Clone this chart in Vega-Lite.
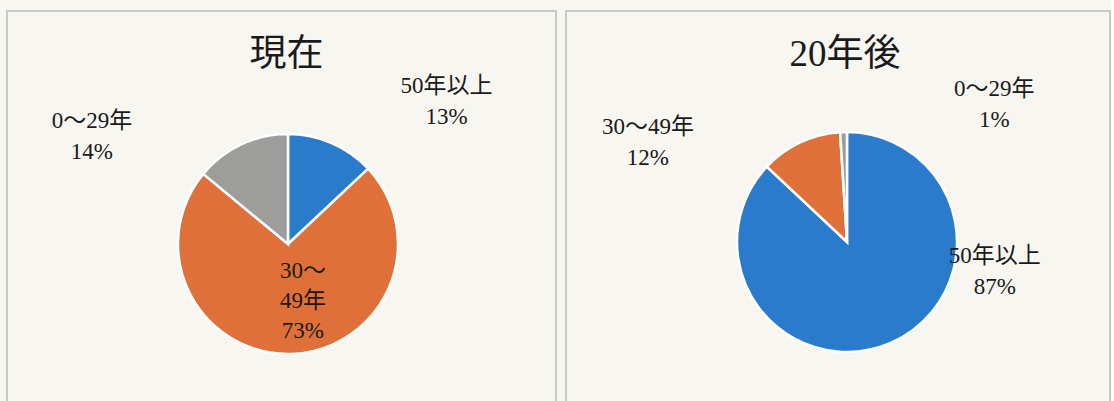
{
  "$schema": "https://vega.github.io/schema/vega-lite/v6.json",
  "background": "#f7f6f1",
  "padding": {"left": 6, "top": 10, "right": 0, "bottom": 0},
  "spacing": 8,
  "config": {
    "view": {"stroke": "#c9c9c6", "strokeWidth": 2},
    "font": "Liberation Serif, Noto Sans CJK JP",
    "text": {"font": "Liberation Serif, Noto Sans CJK JP", "color": "#1a1a1a", "fontSize": 23, "lineHeight": 31, "lineBreak": "\n", "align": "center", "baseline": "middle"}
  },
  "datasets": {
    "now": [
      {"cat": "50年以上", "value": 13, "ord": 1, "label": "50年以上\n13%"},
      {"cat": "30〜49年", "value": 73, "ord": 2, "label": "30〜\n49年\n73%"},
      {"cat": "0〜29年", "value": 14, "ord": 3, "label": "0〜29年\n14%"}
    ],
    "later": [
      {"cat": "50年以上", "value": 87, "ord": 1, "label": "50年以上\n87%"},
      {"cat": "30〜49年", "value": 12, "ord": 2, "label": "30〜49年\n12%"},
      {"cat": "0〜29年", "value": 1, "ord": 3, "label": "0〜29年\n1%"}
    ]
  },
  "hconcat": [
    {
      "width": 549,
      "height": 392,
      "view": {"stroke": "#c9c9c6", "strokeWidth": 2},
      "data": {"name": "now"},
      "title": {"text": "現在", "fontSize": 37, "fontWeight": "normal", "color": "#1a1a1a", "font": "Liberation Serif, Noto Sans CJK JP", "offset": -100, "baseline": "bottom", "dx": 5},
      "encoding": {
        "theta": {"field": "value", "type": "quantitative", "stack": true},
        "order": {"field": "ord", "type": "quantitative"}
      },
      "layer": [
        {
          "mark": {"type": "arc", "outerRadius": 110, "stroke": "white", "strokeWidth": 2.5, "x": 281, "y": 233},
          "encoding": {
            "color": {"field": "cat", "type": "nominal", "legend": null,
              "scale": {"domain": ["50年以上", "30〜49年", "0〜29年"], "range": ["#2a7bcc", "#e0703a", "#9d9d9b"]}}
          }
        },
        {
          "mark": {"type": "text", "radius": 160, "dx": 95, "dy": -11, "x": 281, "y": 233},
          "encoding": {"text": {"condition": {"test": "datum.cat === '50年以上'", "field": "label"}, "value": ""}}
        },
        {
          "mark": {"type": "text", "radius": 60, "dx": 13, "dy": -33, "lineHeight": 30, "x": 281, "y": 233},
          "encoding": {"text": {"condition": {"test": "datum.cat === '30〜49年'", "field": "label"}, "value": ""}}
        },
        {
          "mark": {"type": "text", "radius": 160, "dx": -128, "dy": 22, "x": 281, "y": 233},
          "encoding": {"text": {"condition": {"test": "datum.cat === '0〜29年'", "field": "label"}, "value": ""}}
        }
      ]
    },
    {
      "width": 544,
      "height": 392,
      "view": {"stroke": "#c9c9c6", "strokeWidth": 2},
      "data": {"name": "later"},
      "title": {"text": "20年後", "fontSize": 37, "fontWeight": "normal", "color": "#1a1a1a", "font": "Liberation Serif, Noto Sans CJK JP", "offset": -100, "baseline": "bottom", "dx": 7},
      "encoding": {
        "theta": {"field": "value", "type": "quantitative", "stack": true},
        "order": {"field": "ord", "type": "quantitative"}
      },
      "layer": [
        {
          "mark": {"type": "arc", "outerRadius": 110, "stroke": "white", "strokeWidth": 2.5, "x": 281, "y": 231},
          "encoding": {
            "color": {"field": "cat", "type": "nominal", "legend": null,
              "scale": {"domain": ["50年以上", "30〜49年", "0〜29年"], "range": ["#2a7bcc", "#e0703a", "#9d9d9b"]}}
          }
        },
        {
          "mark": {"type": "text", "radius": 80, "dx": 116, "dy": -59, "x": 281, "y": 231},
          "encoding": {"text": {"condition": {"test": "datum.cat === '50年以上'", "field": "label"}, "value": ""}}
        },
        {
          "mark": {"type": "text", "radius": 160, "dx": -131, "dy": 30, "x": 281, "y": 231},
          "encoding": {"text": {"condition": {"test": "datum.cat === '30〜49年'", "field": "label"}, "value": ""}}
        },
        {
          "mark": {"type": "text", "radius": 150, "dx": 152, "dy": -3, "x": 281, "y": 231},
          "encoding": {"text": {"condition": {"test": "datum.cat === '0〜29年'", "field": "label"}, "value": ""}}
        }
      ]
    }
  ]
}
